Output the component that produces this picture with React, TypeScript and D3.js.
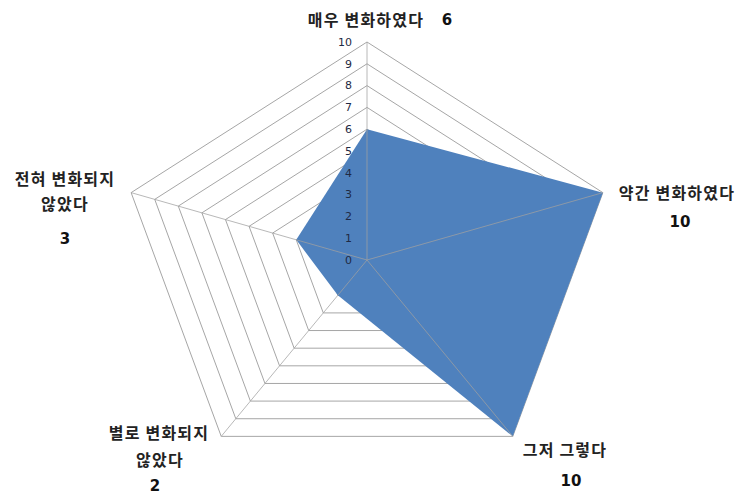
import React from 'react';
import * as d3 from 'd3';

const categories = ['매우 변화하였다', '약간 변화하였다', '그저 그렇다', '별로 변화되지 않았다', '전혀 변화되지 않았다'];
const values = [6, 10, 10, 2, 3];
const tickValues = [0, 1, 2, 3, 4, 5, 6, 7, 8, 9, 10];

const W = 744, H = 494;
const cx = 367, cy = 260, Rx = 248, Ry = 218;

const labelLayout = [
  { lines: [[366, 20]], value: [447, 20], split: false },
  { lines: [[677, 193]], value: [680, 222], split: false },
  { lines: [[565, 450]], value: [571, 481], split: false },
  { lines: [[159, 433], [160, 460]], value: [155, 486], split: true },
  { lines: [[65, 179], [65, 204]], value: [65, 239], split: true },
];

export default function App() {
  const r = d3.scaleLinear().domain([0, 10]).range([0, 1]);
  const angle = d3.scaleLinear().domain([0, categories.length]).range([0, 2 * Math.PI]);
  const pt = (i: number, v: number): [number, number] => [
    cx + Rx * r(v) * Math.sin(angle(i)),
    cy - Ry * r(v) * Math.cos(angle(i)),
  ];
  const line = d3.line<[number, number]>().curve(d3.curveLinearClosed);
  const rings = tickValues.filter((t) => t > 0).map((t) => line(categories.map((_, i) => pt(i, t))) as string);
  const dataPath = line(values.map((v, i) => pt(i, v))) as string;
  const korFont = '"Noto Sans CJK KR", "Noto Sans", sans-serif';

  return (
    <svg width={W} height={H} style={{ position: 'absolute', left: 0, top: 0, background: '#fff' }}>
      <g fill="none" stroke="#a6a6a6" strokeWidth={1}>
        {rings.map((d, i) => (
          <path key={i} d={d} />
        ))}
      </g>
      <path d={dataPath} fill="#4f81bd" stroke="none" />
      <g stroke="#a0a0a0" strokeWidth={1} strokeOpacity={0.75}>
        {categories.map((_, i) => {
          const [x, y] = pt(i, 10);
          return <line key={i} x1={cx} y1={cy} x2={x} y2={y} />;
        })}
      </g>
      <g fontFamily='"DejaVu Sans", sans-serif' fontSize={11} fill="#1f2a44" textAnchor="end">
        {tickValues.map((t) => (
          <text key={t} x={352} y={pt(0, t)[1]} dy="0.35em">
            {t}
          </text>
        ))}
      </g>
      {categories.map((c, i) => {
        const L = labelLayout[i];
        const parts = L.split ? [c.slice(0, c.lastIndexOf(' ')), c.slice(c.lastIndexOf(' ') + 1)] : [c];
        return (
          <g key={i}>
            {parts.map((p, j) => (
              <text
                key={j}
                x={L.lines[j][0]}
                y={L.lines[j][1]}
                dy="0.35em"
                textAnchor="middle"
                fontFamily={korFont}
                fontSize={16}
                letterSpacing={1.2}
                fontWeight={700}
                fill="#222"
              >
                {p}
              </text>
            ))}
            <text
              x={L.value[0]}
              y={L.value[1]}
              dy="0.35em"
              textAnchor="middle"
              fontFamily='"DejaVu Sans", sans-serif'
              fontSize={15}
              fontWeight={700}
              fill="#111"
            >
              {values[i]}
            </text>
          </g>
        );
      })}
    </svg>
  );
}
